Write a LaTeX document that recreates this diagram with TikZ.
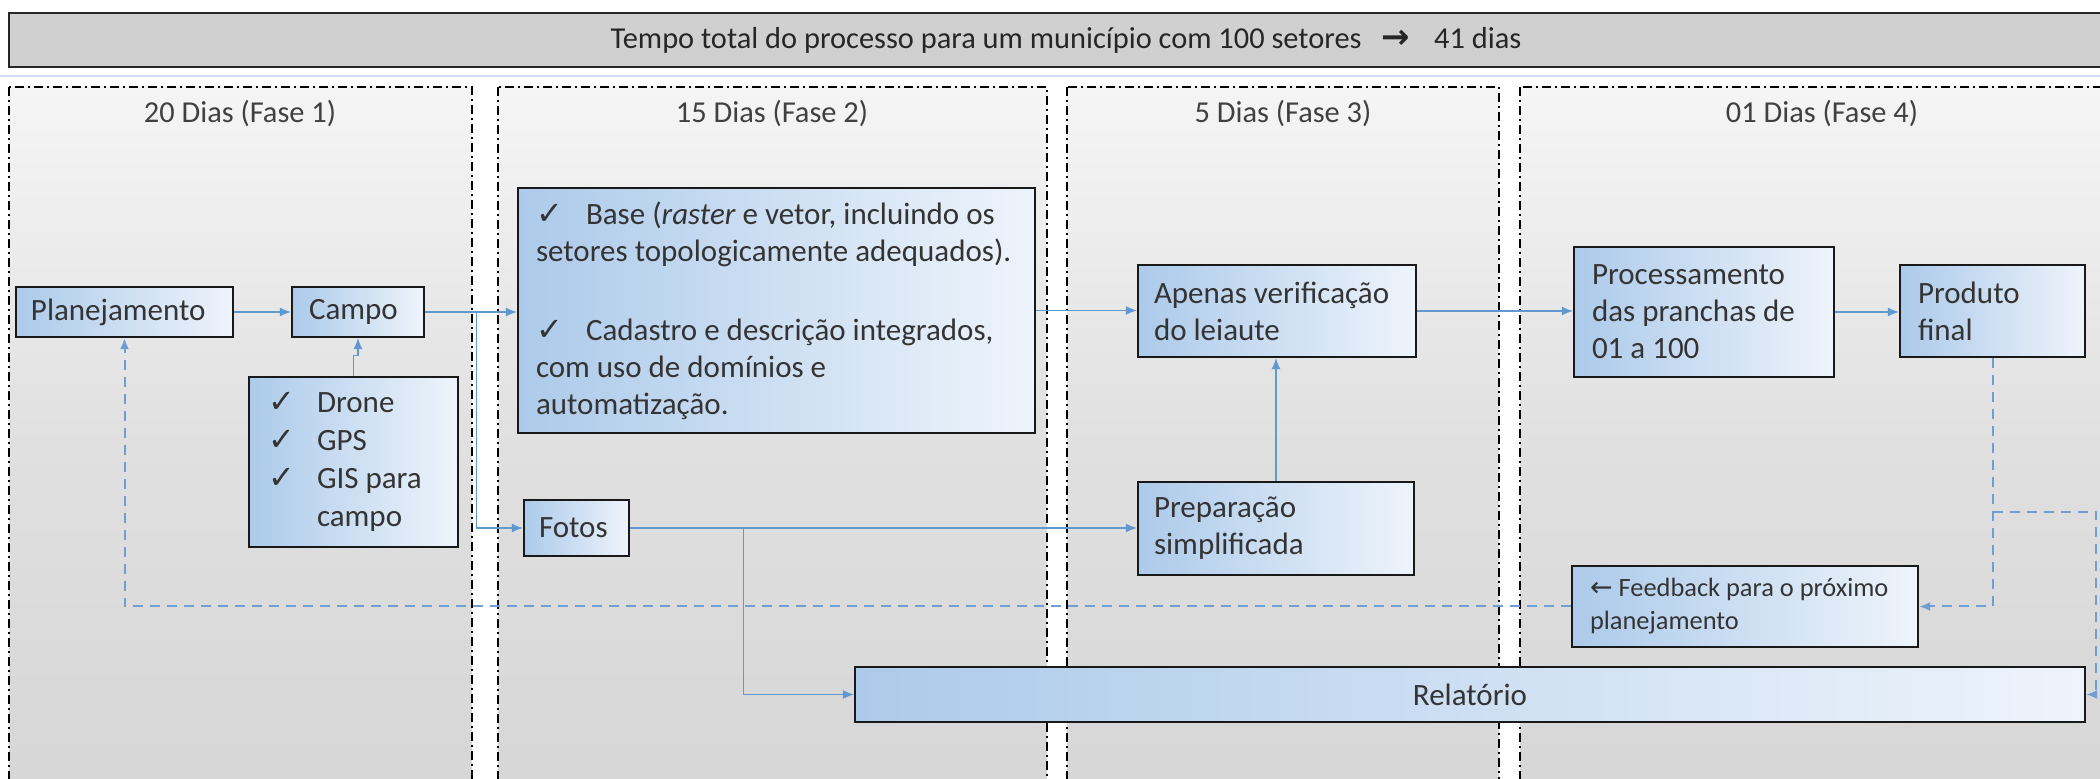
\documentclass[tikz,border=0pt]{standalone}
\usepackage{fontspec}
\setmainfont{Carlito}
\newfontfamily\symfont{DejaVu Sans}
\usetikzlibrary{arrows.meta}

\definecolor{nodeblue}{RGB}{172,202,234}
\definecolor{nodewhite}{RGB}{238,244,251}
\definecolor{connblue}{RGB}{98,152,208}
\definecolor{dashblue}{RGB}{112,158,210}
\definecolor{bargray}{RGB}{208,208,208}
\definecolor{paneltop}{RGB}{245,245,245}
\definecolor{panelmid}{RGB}{224,224,224}
\definecolor{panelbot}{RGB}{214,214,214}
\definecolor{txt}{RGB}{52,52,52}
\definecolor{lightline}{RGB}{205,222,238}

\newcommand{\ck}{{\symfont\bfseries\fontsize{16}{16}\selectfont ✓}}

\begin{document}
\begin{tikzpicture}[x=0.5pt,y=-0.5pt,
  panel/.style={top color=paneltop, bottom color=panelbot, middle color=panelmid,
    draw=black, line width=1pt, dash pattern=on 4.5pt off 2pt on 1pt off 2pt},
  bx/.style={draw=black!90, line width=1.1pt, left color=nodeblue, right color=nodewhite,
    rectangle, inner sep=0pt, align=flush left, text=txt,
    font=\fontsize{15.5}{18.5}\selectfont},
  conn/.style={draw=connblue, line width=0.6pt, -{Latex[length=5.5pt,width=4.5pt]}},
  dconn/.style={draw=dashblue, line width=1pt, dash pattern=on 5pt off 3.5pt,
    -{Latex[length=5.5pt,width=4.5pt]}},
  ttl/.style={text=black!75, font=\fontsize{15.2}{18}\selectfont},
]
\useasboundingbox (0,0) rectangle (2100,779);
\fill[white] (0,0) rectangle (2100,779);
\clip (0,0) rectangle (2100,779);

% phase panels
\path[panel] (9,87) rectangle (472,800);
\path[panel] (498,87) rectangle (1047,800);
\path[panel] (1067,87) rectangle (1499,800);
\path[panel] (1520,87) rectangle (2124,800);

% top bar
\node[draw=black!85, line width=1pt, fill=bargray, minimum width=1057pt, minimum height=27pt,
  inner sep=0pt, text=black!85, font=\fontsize{15.2}{18}\selectfont] (top) at (1066,40)
  {Tempo total do processo para um município com 100 setores\hspace{10pt}{\symfont\bfseries\fontsize{17}{17}\selectfont →}\hspace{12pt}41 dias};
\draw[lightline, line width=1pt] (0,76) -- (2100,76);

% titles
\node[ttl] (t1) at (240,113) {20 Dias (Fase 1)};
\node[ttl] (t2) at (772,113) {15 Dias (Fase 2)};
\node[ttl] (t3) at (1283,113) {5 Dias (Fase 3)};
\node[ttl] (t4) at (1822,113) {01 Dias (Fase 4)};

% boxes
\node[bx, minimum width=108.5pt, minimum height=25pt, text width=93.5pt] (plan) at (124.5,312) {Planejamento};
\node[bx, minimum width=66pt, minimum height=25pt, text width=49pt] (campo) at (358,312) {Campo};
\node[bx, minimum width=104.5pt, minimum height=85pt, text width=85.5pt,
  font=\fontsize{15.5}{19}\selectfont] (drone) at (353.5,462)
  {\makebox[24.5pt][l]{\ck}Drone\\
   \makebox[24.5pt][l]{\ck}GPS\\
   \makebox[24.5pt][l]{\ck}GIS para\\
   \hspace*{24.5pt}campo};
\node[bx, minimum width=258.5pt, minimum height=122.5pt, text width=240.5pt] (base) at (776.5,310.5)
  {\makebox[25pt][l]{\ck}Base (\textit{raster} e vetor, incluindo os\\
   \mbox{setores topologicamente adequados).}\\[21pt]
   \makebox[25pt][l]{\ck}Cadastro e descrição integrados,\\
   com uso de domínios e\\
   automatização.};
\node[bx, minimum width=52.5pt, minimum height=28pt, text width=37.5pt] (fotos) at (576.5,528) {Fotos};
\node[bx, minimum width=139pt, minimum height=46pt, text width=123pt] (apenas) at (1277,311)
  {Apenas verificação\\do leiaute};
\node[bx, minimum width=138pt, minimum height=46.5pt, text width=122pt] (prep) at (1276,528.5)
  {Preparação\\simplificada};
\node[bx, minimum width=130pt, minimum height=65pt, text width=112pt] (proc) at (1704,312)
  {Processamento\\das pranchas de\\01 a 100};
\node[bx, minimum width=92.5pt, minimum height=46pt, text width=74.5pt] (prod) at (1992.5,311)
  {Produto\\final};
\node[bx, minimum width=173pt, minimum height=40.5pt, text width=155pt,
  font=\fontsize{13.2}{16.5}\selectfont] (fb) at (1745,606.5)
  {\mbox{{\symfont\fontsize{13.5}{13.5}\selectfont ←} Feedback para o próximo}\\planejamento};
\node[bx, minimum width=615pt, minimum height=27.5pt, align=center] (rel) at (1470,694.5) {Relatório};

% solid connectors
\draw[conn] (plan.east) -- (plan.east -| campo.west);
\draw[conn] (campo.east) -- (campo.east -| base.west);
\path (campo.east) ++(51,0) coordinate (j1);
\draw[conn] (j1) |- (fotos.west);
\draw[conn] (drone.north) -- ++(0,-20) -| (campo.south);
\draw[conn] (base.east) -- (base.east -| apenas.west);
\draw[conn] (apenas.east) -- (apenas.east -| proc.west);
\draw[conn] (proc.east) -- (proc.east -| prod.west);
\draw[conn] (fotos.east) -- (fotos.east -| prep.west);
\path (fotos.east) ++(113,0) coordinate (j2);
\draw[conn] (j2) |- (rel.west);
\draw[conn] (prep.north) -- (prep.north |- apenas.south);

% dashed connectors
\coordinate (rx) at (2096,512);
\draw[dconn] (prod.south) |- (fb.east);
\draw[dconn] (prod.south |- rx) -- (rx) |- (rel.east);
\draw[dconn] (fb.west) -| (plan.south);
\end{tikzpicture}
\end{document}
